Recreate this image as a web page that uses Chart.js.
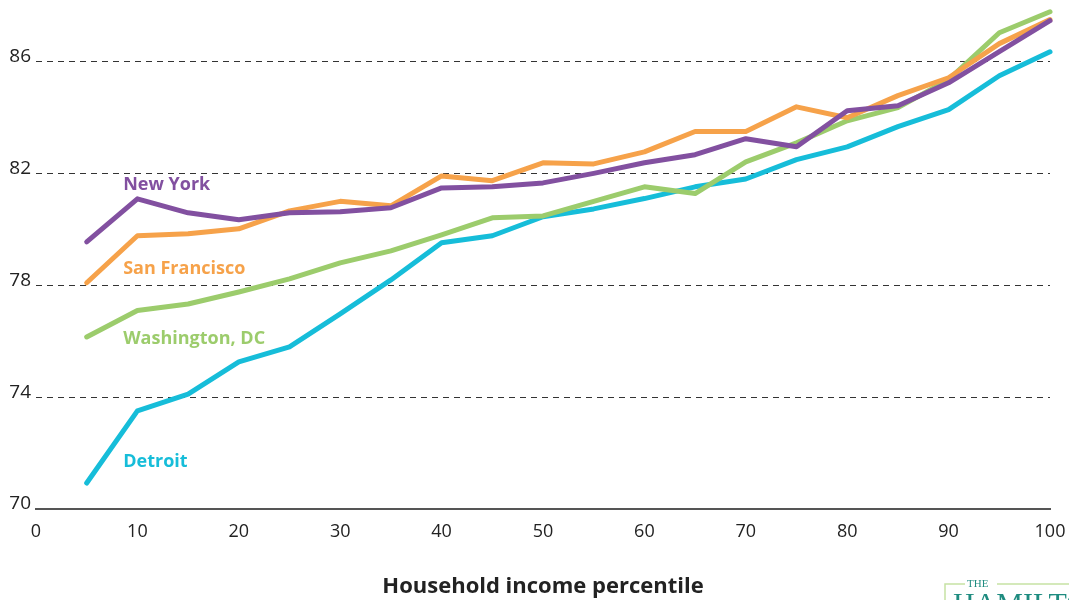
<!DOCTYPE html>
<html>
<head>
<meta charset="utf-8">
<script src="https://cdn.jsdelivr.net/npm/chart.js@4/dist/chart.umd.min.js"></script>
<style>
  html, body { margin: 0; padding: 0; background: #fff; }
  #chart { display: block; }
</style>
</head>
<body>
<canvas id="chart" width="1069" height="600"></canvas>
<script>
// income percentile (x) and life expectancy values per city
const percentiles = [5, 10, 15, 20, 25, 30, 35, 40, 45, 50, 55, 60, 65, 70, 75, 80, 85, 90, 95, 100];
const newYork = [79.55, 81.09, 80.59, 80.34, 80.59, 80.63, 80.77, 81.48, 81.52, 81.66, 82.0, 82.38, 82.67, 83.24, 82.95, 84.24, 84.42, 85.24, 86.35, 87.46];
const sanFrancisco = [78.09, 79.77, 79.84, 80.02, 80.66, 81.0, 80.84, 81.91, 81.74, 82.38, 82.34, 82.77, 83.5, 83.5, 84.38, 83.99, 84.78, 85.42, 86.64, 87.5];
const washingtonDC = [76.15, 77.1, 77.33, 77.76, 78.23, 78.8, 79.23, 79.8, 80.41, 80.48, 81.0, 81.52, 81.28, 82.41, 83.09, 83.88, 84.35, 85.35, 87.03, 87.78];
const detroit = [70.93, 73.51, 74.11, 75.26, 75.8, 76.98, 78.19, 79.52, 79.77, 80.45, 80.73, 81.1, 81.52, 81.8, 82.49, 82.95, 83.67, 84.28, 85.49, 86.35];

const xTicks = [0, 10, 20, 30, 40, 50, 60, 70, 80, 90, 100];
const yTicks = [70, 74, 78, 82, 86];

// city name labels placed in data coordinates
const cityNames = ["New York", "San Francisco", "Washington, DC", "Detroit"];
const cityColors = ["#8250a0", "#f6a24a", "#9ccc6c", "#16bdd9"];
const nameX = [8.6, 8.6, 8.6, 8.6];
const nameY = [81.59, 78.59, 76.08, 71.68];

const series = [newYork, sanFrancisco, washingtonDC, detroit];

let toPoints = function(vals){
    return vals.map((v, i) => ({x: percentiles[i], y: v}));
};

const datasets = series.map((vals, i) => ({
    label: cityNames[i],
    data: toPoints(vals),
    borderColor: cityColors[i],
    backgroundColor: cityColors[i],
    borderWidth: 5,
    pointRadius: 0,
    tension: 0,
    borderCapStyle: 'round',
    borderJoinStyle: 'round',
    clip: 8
}));

const cityLabels = {
    id: 'cityLabels',
    afterDatasetsDraw(chart){
        const ctx = chart.ctx;
        const xs = chart.scales.x, ys = chart.scales.y;
        ctx.save();
        ctx.font = 'bold 18px "Open Sans"';
        ctx.textAlign = 'left';
        ctx.textBaseline = 'middle';
        cityNames.forEach((name, i) => {
            ctx.fillStyle = cityColors[i];
            ctx.fillText(name, xs.getPixelForValue(nameX[i]), ys.getPixelForValue(nameY[i]));
        });
        ctx.restore();
    }
};

// partial logo in the bottom right corner
const logo = {
    id: 'logo',
    afterDraw(chart){
        const ctx = chart.ctx;
        ctx.save();
        ctx.strokeStyle = '#c6e2a4';
        ctx.lineWidth = 1.5;
        ctx.beginPath();
        ctx.moveTo(945, 600);
        ctx.lineTo(945, 584);
        ctx.lineTo(965, 584);
        ctx.moveTo(997, 584);
        ctx.lineTo(1069, 584);
        ctx.stroke();
        ctx.fillStyle = '#1f8c80';
        ctx.font = '11px "Liberation Serif"';
        ctx.textAlign = 'left';
        ctx.textBaseline = 'middle';
        ctx.fillText('THE', 967, 584);
        ctx.font = '30px "Liberation Serif"';
        ctx.textBaseline = 'top';
        ctx.fillText('HAMILTON', 953, 590);
        ctx.restore();
    }
};

new Chart('chart', {
    type: 'line',
    data: { datasets: datasets },
    options: {
        responsive: false,
        animation: false,
        events: [],
        layout: { padding: { left: 0, top: 0, right: 19, bottom: 0 } },
        plugins: {
            legend: { display: false },
            tooltip: { enabled: false }
        },
        scales: {
            x: {
                type: 'linear',
                min: 0,
                max: 100,
                afterFit(scale){
                    scale.height = 91;
                    scale.paddingLeft = 0;
                    scale.paddingRight = 0;
                },
                afterBuildTicks(scale){ scale.ticks = xTicks.map(v => ({value: v})); },
                grid: { display: false, drawTicks: false, tickLength: 0 },
                border: { display: true, color: '#555', width: 2 },
                ticks: {
                    color: '#222',
                    padding: 12,
                    maxRotation: 0,
                    font: { family: '"Open Sans"', size: 18 }
                },
                title: {
                    display: true,
                    text: 'Household income percentile',
                    color: '#222',
                    padding: { top: 0, bottom: 0 },
                    font: { family: '"Open Sans"', size: 22, weight: 'bold' }
                }
            },
            y: {
                type: 'linear',
                min: 70,
                max: 88.2,
                afterFit(scale){
                    scale.width = 36;
                    scale.paddingTop = 0;
                    scale.paddingBottom = 0;
                },
                afterBuildTicks(scale){ scale.ticks = yTicks.map(v => ({value: v})); },
                grid: {
                    drawTicks: false,
                    tickLength: 0,
                    color: ctx => ctx.tick && ctx.tick.value === 70 ? 'rgba(0,0,0,0)' : '#333',
                    lineWidth: 1
                },
                border: { display: false, dash: [6, 5] },
                ticks: {
                    color: '#222',
                    padding: 5,
                    labelOffset: -5,
                    font: { family: '"Open Sans"', size: 19 }
                }
            }
        }
    },
    plugins: [cityLabels, logo]
});
</script>
</body>
</html>
